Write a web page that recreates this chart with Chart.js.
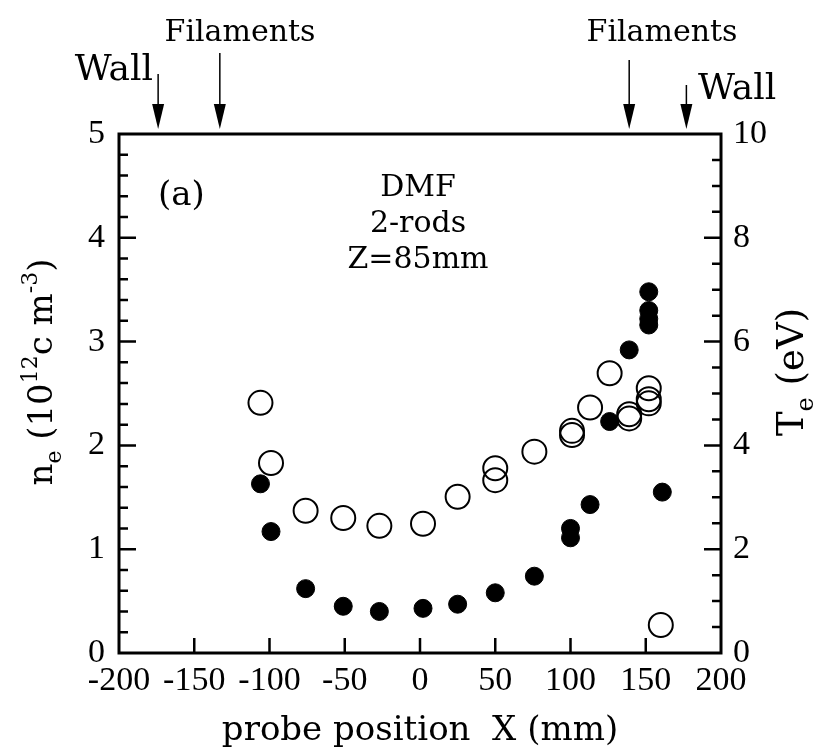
<!DOCTYPE html>
<html lang="en">
<head>
<meta charset="utf-8">
<title>Probe profile</title>
<script src="https://cdn.jsdelivr.net/npm/chart.js"></script>
<style>
  body { margin: 0; background: #fff; }
  #wrap { width: 830px; height: 755px; }
</style>
</head>
<body>
<div id="wrap"><canvas id="myChart" width="830" height="755"></canvas></div>

<script>
    // n_e (filled circles, left axis, 10^12 cm^-3)
    const neX = [-106, -99, -76, -51, -27, 2, 25, 50, 76, 100, 100, 113, 126, 139, 152, 152, 152, 152, 161];
    const neY = [1.63, 1.17, 0.62, 0.45, 0.40, 0.43, 0.47, 0.58, 0.74, 1.20, 1.11, 1.43, 2.23, 2.92, 3.48, 3.30, 3.22, 3.16, 1.55];

    // T_e (open circles, right axis, eV)
    const teX = [-106, -99, -76, -51, -27, 2, 25, 50, 50, 76, 101, 101, 113, 126, 139, 139, 152, 152, 152, 160];
    const teY = [4.82, 3.66, 2.74, 2.60, 2.45, 2.49, 3.01, 3.56, 3.33, 3.88, 4.28, 4.20, 4.73, 5.39, 4.60, 4.52, 5.10, 4.89, 4.81, 0.54];

    // arrows above the frame
    const markerX = [-174, -133, 139, 177];
    const markerText = ['Wall', 'Filaments', 'Filaments', 'Wall'];

    const serif = "'DejaVu Serif', serif";
    const times = "'Liberation Serif', serif";

    function pts(xs, ys) {
        return xs.map((v, i) => ({ x: v, y: ys[i] }));
    }

    // draws text pieces one after another (for sub / superscripts)
    function drawPieces(ctx, pieces, cx, cy) {
        let total = 0;
        pieces.forEach(p => {
            ctx.font = p.size + 'px ' + serif;
            p.w = ctx.measureText(p.t).width;
            total += p.w;
        });
        let xx = cx - total / 2;
        pieces.forEach(p => {
            ctx.font = p.size + 'px ' + serif;
            ctx.fillText(p.t, xx, cy + (p.dy || 0));
            xx += p.w;
        });
    }

    const decor = {
        id: 'decor',
        afterDatasetsDraw(chart) {
            const ctx = chart.ctx;
            const a = chart.chartArea;
            const sx = chart.scales.x, sy = chart.scales.y, sy2 = chart.scales.y2;
            ctx.save();
            ctx.strokeStyle = '#000';
            ctx.fillStyle = '#000';

            // frame
            ctx.lineWidth = 3;
            ctx.strokeRect(a.left, a.top, a.right - a.left, a.bottom - a.top);

            // inward ticks
            ctx.lineWidth = 2.5;
            ctx.beginPath();
            for (let v = -150; v < 200; v += 50) {
                const px = sx.getPixelForValue(v);
                ctx.moveTo(px, a.bottom);
                ctx.lineTo(px, a.bottom - 15);
            }
            for (let i = 1; i < 25; i++) {
                const py = sy.getPixelForValue(i * 0.2);
                const len = i % 5 === 0 ? 17 : 9;
                ctx.moveTo(a.left, py);
                ctx.lineTo(a.left + len, py);
            }
            for (let i = 1; i < 20; i++) {
                const py = sy2.getPixelForValue(i * 0.5);
                const len = i % 4 === 0 ? 17 : 9;
                ctx.moveTo(a.right, py);
                ctx.lineTo(a.right - len, py);
            }
            ctx.stroke();

            // arrows + labels on top
            ctx.lineWidth = 1.5;
            const tops = [74, 53, 60, 85];
            markerX.forEach((v, i) => {
                const px = sx.getPixelForValue(v);
                const tip = a.top - 5;
                ctx.beginPath();
                ctx.moveTo(px, tops[i]);
                ctx.lineTo(px, tip - 20);
                ctx.stroke();
                ctx.beginPath();
                ctx.moveTo(px - 6, tip - 25);
                ctx.lineTo(px + 6, tip - 25);
                ctx.lineTo(px, tip);
                ctx.closePath();
                ctx.fill();
            });
            ctx.textBaseline = 'alphabetic';
            ctx.font = '36px ' + serif;
            ctx.textAlign = 'right';
            ctx.fillText(markerText[0], 153, 80);
            ctx.textAlign = 'left';
            ctx.fillText(markerText[3], 698, 99);
            ctx.font = '30px ' + serif;
            ctx.textAlign = 'center';
            ctx.fillText(markerText[1], 240, 41);
            ctx.fillText(markerText[2], 662, 41);

            // labels inside the frame
            ctx.font = '34px ' + serif;
            ctx.textAlign = 'left';
            ctx.fillText('(a)', 158, 205);
            ctx.font = '30px ' + serif;
            ctx.textAlign = 'center';
            ctx.fillText('DMF', 418, 196);
            ctx.fillText('2-rods', 418, 232);
            ctx.fillText('Z=85mm', 418, 268);

            // axis titles
            ctx.textAlign = 'left';
            ctx.save();
            ctx.translate(52, 372);
            ctx.rotate(-Math.PI / 2);
            drawPieces(ctx, [
                { t: 'n', size: 34 },
                { t: 'e', size: 22, dy: 9 },
                { t: ' (10', size: 34 },
                { t: '12', size: 22, dy: -15 },
                { t: 'c m', size: 34 },
                { t: '-3', size: 22, dy: -15 },
                { t: ')', size: 34 }
            ], 0, 0);
            ctx.restore();

            ctx.save();
            ctx.translate(803, 372);
            ctx.rotate(-Math.PI / 2);
            drawPieces(ctx, [
                { t: 'T', size: 37 },
                { t: 'e', size: 24, dy: 10 },
                { t: ' (eV)', size: 37 }
            ], 0, 0);
            ctx.restore();

            ctx.font = '34px ' + serif;
            ctx.textAlign = 'center';
            ctx.fillText('probe position  X (mm)', 420, 740);

            ctx.restore();
        }
    };

    const tickFont = { family: times, size: 34 };

    const data = {
        datasets: [{
            label: 'Te',
            data: pts(teX, teY),
            yAxisID: 'y2',
            pointRadius: 12,
            pointBorderWidth: 2,
            pointBackgroundColor: 'rgba(0, 0, 0, 0)',
            pointBorderColor: '#000'
        }, {
            label: 'ne',
            data: pts(neX, neY),
            yAxisID: 'y',
            pointRadius: 9,
            pointBorderWidth: 1,
            pointBackgroundColor: '#000',
            pointBorderColor: '#000'
        }]
    };

    const config = {
        type: 'scatter',
        data: data,
        options: {
            responsive: false,
            animation: false,
            devicePixelRatio: 1,
            layout: { padding: { top: 134, left: 0, right: 0, bottom: 0 } },
            plugins: {
                legend: { display: false },
                tooltip: { enabled: false }
            },
            scales: {
                x: {
                    type: 'linear',
                    position: 'bottom',
                    min: -200,
                    max: 200,
                    grid: { display: false, drawTicks: false },
                    border: { display: false },
                    ticks: { stepSize: 50, padding: 8, autoSkip: false, maxRotation: 0, color: '#000', font: tickFont },
                    afterFit: s => { s.height = 102; }
                },
                y: {
                    position: 'left',
                    min: 0,
                    max: 5,
                    grid: { display: false, drawTicks: false },
                    border: { display: false },
                    ticks: { stepSize: 1, padding: 14, color: '#000', font: tickFont },
                    afterFit: s => { s.width = 119; }
                },
                y2: {
                    position: 'right',
                    min: 0,
                    max: 10,
                    grid: { display: false, drawTicks: false },
                    border: { display: false },
                    ticks: { stepSize: 2, padding: 12, color: '#000', font: tickFont },
                    afterFit: s => { s.width = 109; }
                }
            }
        },
        plugins: [decor]
    };

    const myChart = new Chart(document.getElementById('myChart'), config);
</script>
</body>
</html>
